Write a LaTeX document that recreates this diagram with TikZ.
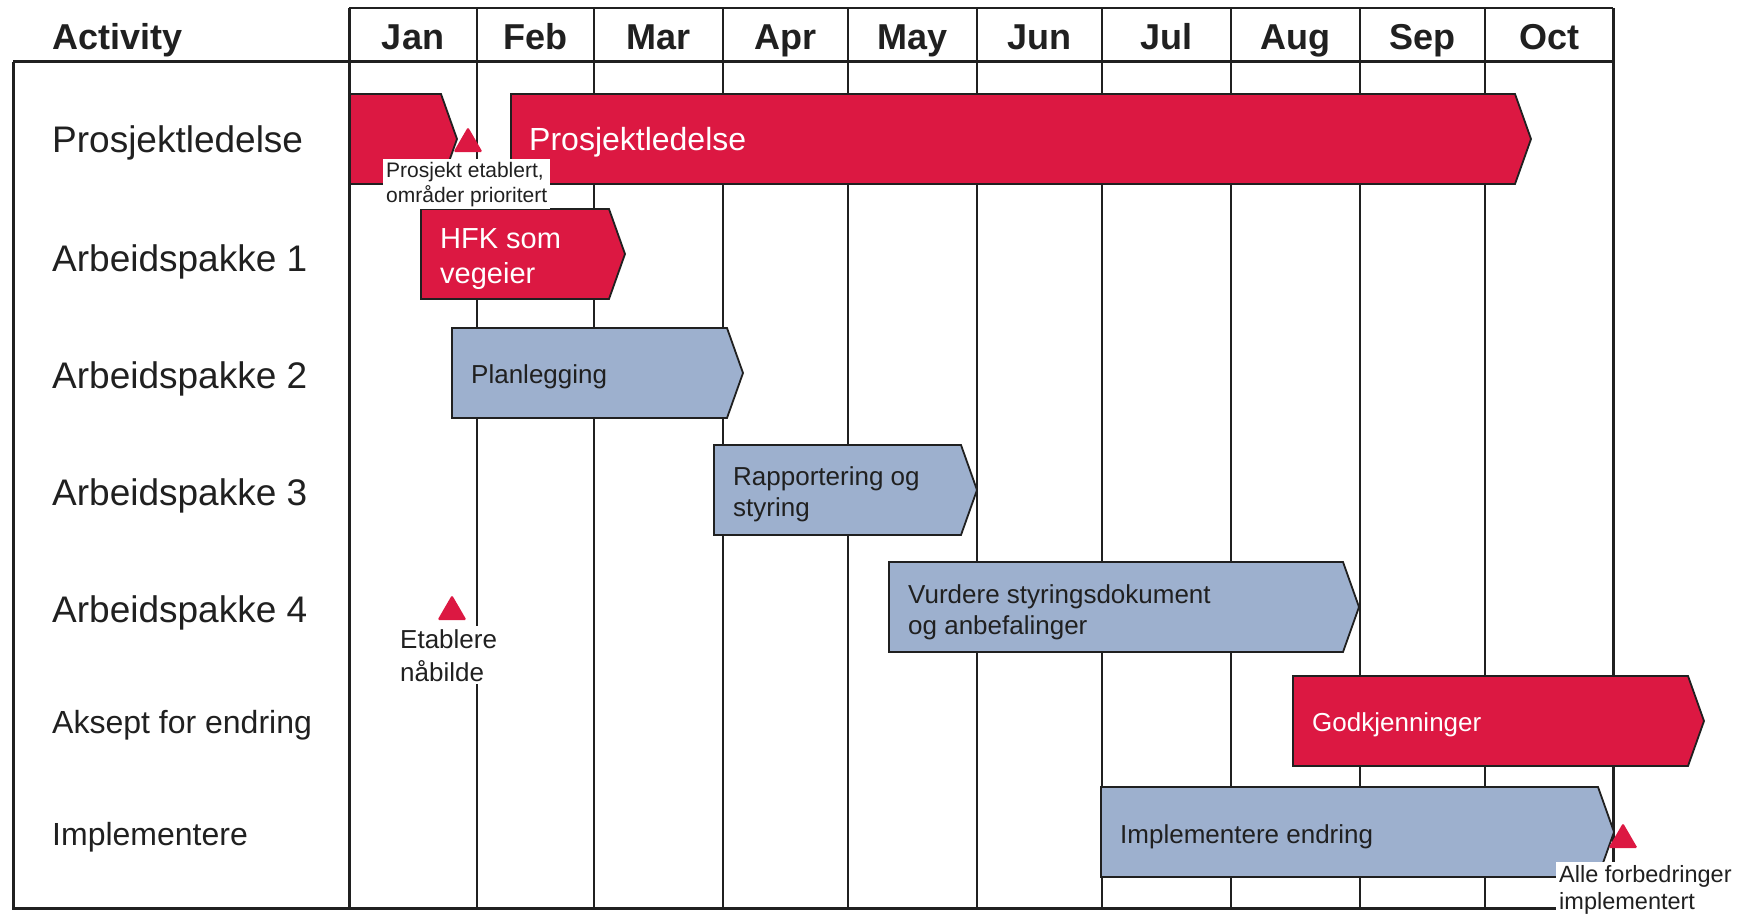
\documentclass[tikz,border=0pt]{standalone}
\usepackage{fontspec}
\setmainfont{Liberation Sans}
\usepackage{xcolor}
\usepackage{tikz}

\definecolor{ganttred}{RGB}{220,24,66}
\definecolor{ganttblue}{RGB}{157,176,206}
\definecolor{ink}{RGB}{32,32,32}

\begin{document}
\begin{tikzpicture}[x = 1pt, y = -1pt,
		rowlabel/.style = {anchor = base west, inner sep = 0pt, text = ink, font = \fontsize{37}{44}\selectfont},
		smallrow/.style = {rowlabel, font = \fontsize{32}{38}\selectfont},
		monthlabel/.style = {anchor = base, inner sep = 0pt, text = ink, font = \bfseries\fontsize{36}{43}\selectfont},
		bartext/.style = {anchor = base west, inner sep = 0pt, align = left, text = white, font = \fontsize{26}{31}\selectfont},
		milestonelabel/.style = {anchor = base west, inner sep = 3pt, fill = white, align = left, text = ink},
		taskbar/.style = {draw = ink, line width = 1.8pt, line join = miter}]
	\useasboundingbox (0,0) rectangle (1747,915);

	\begin{scope}[draw = ink]
		\draw [line width = 2.5pt] (349,8) -- (1613,8);
		\draw [line width = 3pt] (13,62) -- (1613,62);
		\draw [line width = 3pt] (13,62) -- (13,908) -- (1613,908);
		\draw [line width = 3pt] (349,8) -- (349,908);
		\draw [line width = 3pt] (1613,8) -- (1613,908);
	\end{scope}

	\foreach \x in {477,594,723,848,977,1102,1231,1360,1485}
	{
		\draw [ink, line width = 2.2pt] (\x,8) -- (\x,62);
		\draw [ink, line width = 1.3pt] (\x,62) -- (\x,908);
	}

	\node [monthlabel, anchor = base west] (activity) at (52,50) {Activity};
	\foreach \m/\xl/\xr [count = \i] in {Jan/349/477, Feb/477/594, Mar/594/723, Apr/723/848, May/848/977, Jun/977/1102, Jul/1102/1231, Aug/1231/1360, Sep/1360/1485, Oct/1485/1613}
	{
		\node [monthlabel] (month\i) at ({(\xl+\xr)/2},50) {\m};
	}

	\foreach \name/\yb [count = \i] in {Prosjektledelse/153, Arbeidspakke 1/271, Arbeidspakke 2/388, Arbeidspakke 3/505, Arbeidspakke 4/622}
	{
		\node [rowlabel] (row\i) at (52,\yb) {\name};
	}
	\node [smallrow] (row6) at (52,733) {Aksept for endring};
	\node [smallrow] (row7) at (52,845) {Implementere};

	\foreach \xa/\xb/\ya/\yb/\col in {350/441/94/184/ganttred, 511/1515/94/184/ganttred, 421/609/209/299/ganttred, 452/727/328/418/ganttblue, 714/961/445/535/ganttblue, 889/1343/562/652/ganttblue, 1293/1688/676/766/ganttred, 1101/1598/787/877/ganttblue}
	{
		\draw [taskbar, fill = \col] (\xa,\ya) -- (\xb,\ya) -- ({\xb+16},{(\ya+\yb)/2}) -- (\xb,\yb) -- (\xa,\yb) -- cycle;
	}

	% two-line nodes sit on the baseline of their last line
	\node [bartext, font = \fontsize{32}{38}\selectfont] (pltext) at (529,150) {Prosjektledelse};
	\node [bartext, font = \fontsize{29}{35}\selectfont] (ap1text) at (440,283) {HFK som\\vegeier};
	\node [bartext, text = ink] (ap2text) at (471,383) {Planlegging};
	\node [bartext, text = ink] (ap3text) at (733,516) {Rapportering og\\styring};
	\node [bartext, text = ink] (ap4text) at (908,634) {Vurdere styringsdokument\\og anbefalinger};
	\node [bartext] (aksepttext) at (1312,731) {Godkjenninger};
	\node [bartext, text = ink] (impltext) at (1120,843) {Implementere endring};

	\node [milestonelabel, font = \fontsize{21}{25}\selectfont] (ms1text) at (383,202) {Prosjekt etablert,\\områder prioritert};
	\node [milestonelabel, font = \fontsize{26}{33}\selectfont] (ms2text) at (397,681) {Etablere\\nåbilde};
	\node [milestonelabel, font = \fontsize{23.5}{27}\selectfont] (ms3text) at (1556,909) {Alle forbedringer\\implementert};

	\foreach \xc/\ya in {468/127, 452/595, 1623/823}
	{
		\fill [ganttred, rounded corners = 1.5pt] ({\xc-14.5},{\ya+25}) -- (\xc,\ya) -- ({\xc+14.5},{\ya+25}) -- cycle;
	}
\end{tikzpicture}
\end{document}
